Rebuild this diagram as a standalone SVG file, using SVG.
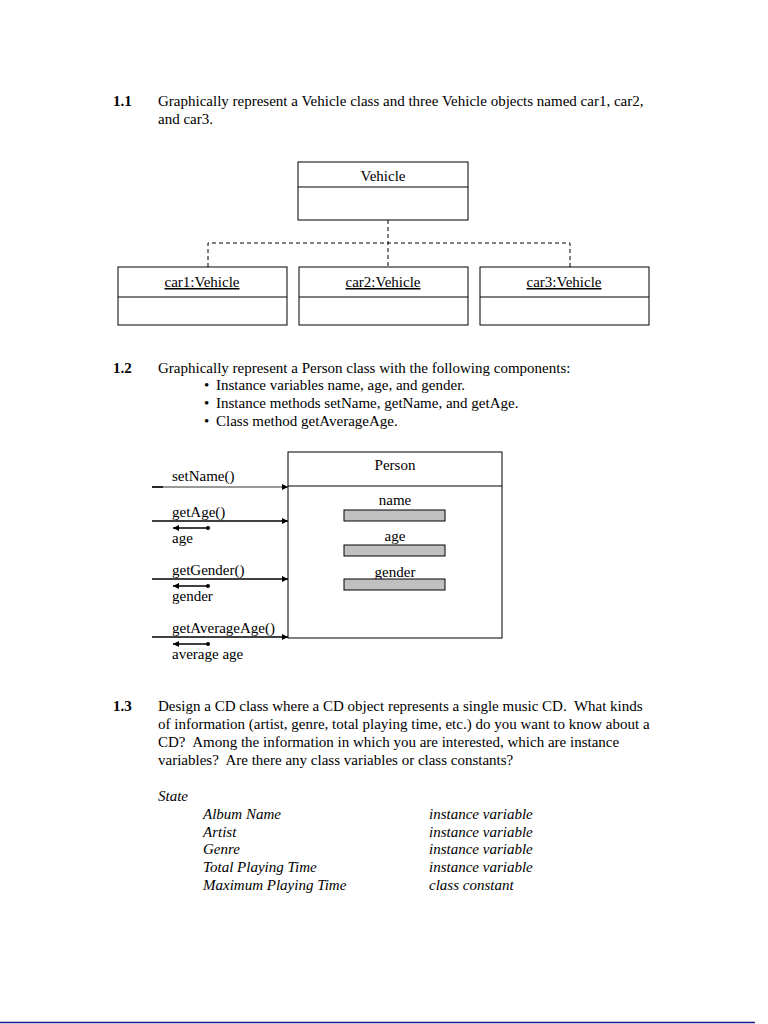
<svg xmlns="http://www.w3.org/2000/svg" width="768" height="1024" viewBox="0 0 768 1024">
<defs>
<marker id="ah" viewBox="0 0 10 10" refX="10" refY="5" markerWidth="8" markerHeight="6" markerUnits="userSpaceOnUse" orient="auto"><path d="M0,0 L10,5 L0,10 z" fill="#000"/></marker>
<marker id="dot" viewBox="0 0 10 10" refX="5" refY="5" markerWidth="4" markerHeight="4" markerUnits="userSpaceOnUse"><circle cx="5" cy="5" r="5" fill="#000"/></marker>
</defs>
<style>
text{font-family:"Liberation Serif","Times New Roman",serif;font-size:15px;fill:#000;white-space:pre}
.b{font-weight:bold}
.i{font-style:italic}
.m{text-anchor:middle}
.u{text-decoration:underline}
.box{fill:#fff;stroke:#000;stroke-width:1}
.bar{fill:#c0c0c0;stroke:#000;stroke-width:1}
.dash{fill:none;stroke:#000;stroke-width:1;stroke-dasharray:4,3}
.call{stroke:#000;stroke-width:1.3;fill:none;marker-end:url(#ah)}
.ret{stroke:#000;stroke-width:1.3;fill:none;marker-end:url(#ah);marker-start:url(#dot)}
</style>
<rect width="768" height="1024" fill="#fff"/>

<g id="q11">
<text x="113" y="106" class="b">1.1</text>
<text x="158" y="106">Graphically represent a Vehicle class and three Vehicle objects named car1, car2,</text>
<text x="158" y="124">and car3.</text>
</g>

<g id="connectors">
<path class="dash" d="M388,220 V267 M208,267 V243 H570 V267"/>
<line class="call" x1="152" y1="487" x2="288" y2="487" style="stroke-width:0.8"/>
<line x1="152" y1="487" x2="163" y2="487" stroke="#000" stroke-width="1.5"/>
<line class="call" x1="152" y1="521" x2="288" y2="521"/>
<line class="ret" x1="208" y1="528" x2="173" y2="528"/>
<line class="call" x1="152" y1="579" x2="288" y2="579"/>
<line class="ret" x1="208" y1="586" x2="173" y2="586"/>
<line class="call" x1="152" y1="637" x2="288" y2="637"/>
<line class="ret" x1="208" y1="644" x2="173" y2="644"/>
</g>

<g id="vehicle">
<rect class="box" x="298" y="162" width="170" height="58"/>
<line x1="298" y1="187" x2="468" y2="187" stroke="#000"/>
<text x="383" y="181" class="m">Vehicle</text>
</g>
<g id="car1">
<rect class="box" x="118" y="267" width="169" height="58"/>
<line x1="118" y1="297" x2="287" y2="297" stroke="#000"/>
<text x="202" y="287" class="m u">car1:Vehicle</text>
</g>
<g id="car2">
<rect class="box" x="299" y="267" width="169" height="58"/>
<line x1="299" y1="297" x2="468" y2="297" stroke="#000"/>
<text x="383" y="287" class="m u">car2:Vehicle</text>
</g>
<g id="car3">
<rect class="box" x="480" y="267" width="169" height="58"/>
<line x1="480" y1="297" x2="649" y2="297" stroke="#000"/>
<text x="564" y="287" class="m u">car3:Vehicle</text>
</g>

<g id="q12">
<text x="113" y="373" class="b">1.2</text>
<text x="158" y="373">Graphically represent a Person class with the following components:</text>
<text x="204" y="390">•</text><text x="216" y="390">Instance variables name, age, and gender.</text>
<text x="204" y="408">•</text><text x="216" y="408">Instance methods setName, getName, and getAge.</text>
<text x="204" y="426">•</text><text x="216" y="426">Class method getAverageAge.</text>
</g>

<g id="person">
<rect class="box" x="288" y="452" width="214" height="186"/>
<line x1="288" y1="486" x2="502" y2="486" stroke="#000"/>
<text x="395" y="470" class="m">Person</text>
<text x="395" y="505" class="m">name</text>
<rect class="bar" x="344" y="510" width="101" height="11"/>
<text x="395" y="541" class="m">age</text>
<rect class="bar" x="344" y="545" width="101" height="11"/>
<text x="395" y="577" class="m">gender</text>
<rect class="bar" x="344" y="579" width="101" height="11"/>
</g>

<g id="messages">
<text x="172" y="481">setName()</text>
<text x="172" y="517">getAge()</text>
<text x="172" y="543">age</text>
<text x="172" y="575">getGender()</text>
<text x="172" y="601">gender</text>
<text x="172" y="633">getAverageAge()</text>
<text x="172" y="659">average age</text>
</g>

<g id="q13">
<text x="113" y="711" class="b">1.3</text>
<text x="158" y="711">Design a CD class where a CD object represents a single music CD.  What kinds</text>
<text x="158" y="729">of information (artist, genre, total playing time, etc.) do you want to know about a</text>
<text x="158" y="747">CD?  Among the information in which you are interested, which are instance</text>
<text x="158" y="765">variables?  Are there any class variables or class constants?</text>
<text x="158" y="801" class="i">State</text>
<text x="203" y="819" class="i">Album Name</text>
<text x="203" y="837" class="i">Artist</text>
<text x="203" y="854" class="i">Genre</text>
<text x="203" y="872" class="i">Total Playing Time</text>
<text x="203" y="890" class="i">Maximum Playing Time</text>
<text x="429" y="819" class="i">instance variable</text>
<text x="429" y="837" class="i">instance variable</text>
<text x="429" y="854" class="i">instance variable</text>
<text x="429" y="872" class="i">instance variable</text>
<text x="429" y="890" class="i">class constant</text>
</g>

<line x1="0" y1="1022.5" x2="755" y2="1022.5" stroke="#1a1a8a" stroke-width="1.5"/>
</svg>
